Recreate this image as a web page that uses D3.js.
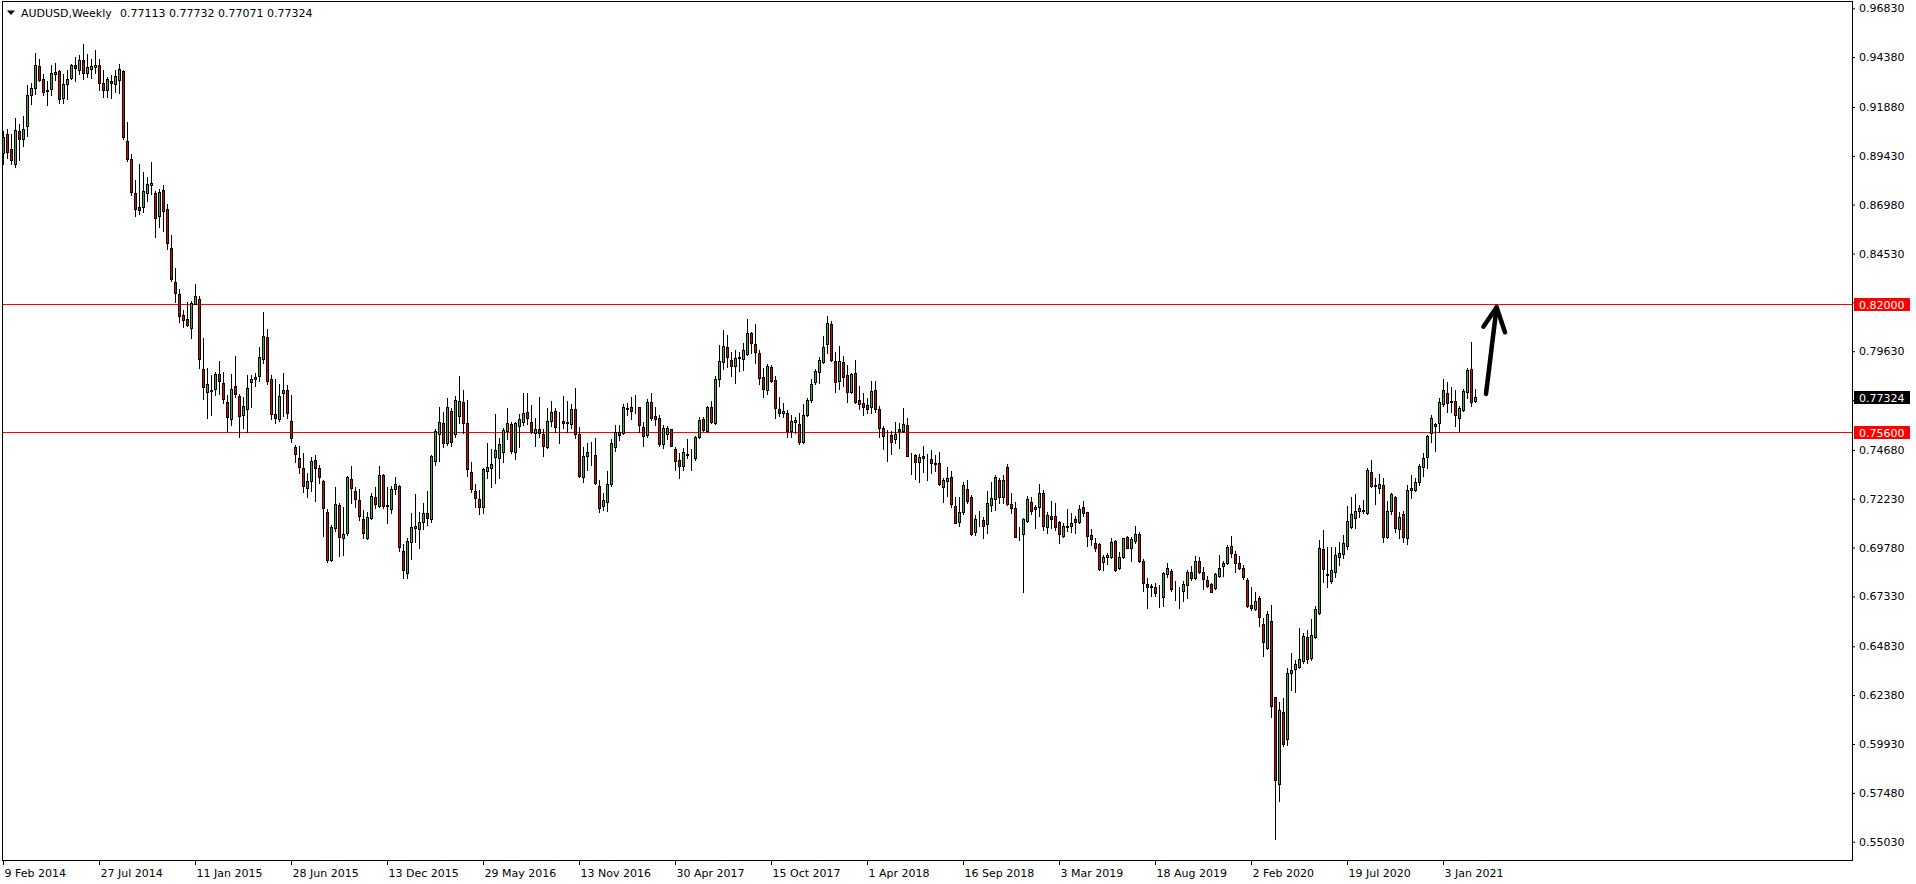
<!DOCTYPE html>
<html><head><meta charset="utf-8">
<script src="https://cdn.jsdelivr.net/npm/d3@7"></script>
<style>html,body{margin:0;padding:0;background:#fff;overflow:hidden}</style>
</head><body><svg id="c" width="1916" height="884"></svg>
<script>
const symbolTitle = "AUDUSD,Weekly";
const titleValues = "0.77113 0.77732 0.77071 0.77324";
const openP = [
0.8959,0.9055,0.8976,0.8904,0.9066,0.9025,0.9093,0.9248,0.9285,0.9392,
0.9330,0.9275,0.9280,0.9354,0.9367,0.9235,0.9305,0.9335,0.9397,0.9376,
0.9422,0.9359,0.9381,0.9391,0.9397,0.9310,0.9275,0.9319,0.9305,0.9325,
0.9367,0.9016,0.8929,0.8759,0.8685,0.8687,0.8757,0.8797,0.8756,0.8642,
0.8771,0.8674,0.8480,0.8308,0.8249,0.8144,0.8124,0.8082,0.8202,0.8223,
0.7873,0.7760,0.7763,0.7773,0.7848,0.7803,0.7706,0.7621,0.7791,0.7736,
0.7643,0.7671,0.7810,0.7822,0.7838,0.7922,0.8035,0.7826,0.7646,0.7621,
0.7751,0.7768,0.7613,0.7481,0.7429,0.7375,0.7275,0.7312,0.7416,0.7375,
0.7312,0.7156,0.6916,0.7078,0.7192,0.7024,0.7053,0.7320,0.7262,0.7217,
0.7120,0.7028,0.7125,0.7233,0.7188,0.7342,0.7188,0.7170,0.7273,0.7289,
0.6961,0.6849,0.7004,0.7086,0.7070,0.7105,0.7150,0.7121,0.7414,0.7547,
0.7601,0.7501,0.7665,0.7546,0.7638,0.7706,0.7601,0.7355,0.7262,0.7220,
0.7183,0.7364,0.7375,0.7434,0.7425,0.7456,0.7564,0.7598,0.7459,0.7589,
0.7609,0.7656,0.7606,0.7554,0.7571,0.7546,0.7481,0.7614,0.7663,0.7606,
0.7614,0.7601,0.7596,0.7671,0.7546,0.7330,0.7439,0.7446,0.7442,0.7287,
0.7188,0.7208,0.7295,0.7484,0.7559,0.7554,0.7671,0.7681,0.7673,0.7681,
0.7584,0.7542,0.7706,0.7638,0.7626,0.7496,0.7548,0.7571,0.7471,0.7417,
0.7389,0.7445,0.7442,0.7425,0.7531,0.7623,0.7564,0.7681,0.7601,0.7826,
0.7907,0.7982,0.7918,0.7890,0.7927,0.7923,0.7947,0.8052,0.7997,0.7952,
0.7832,0.7771,0.7882,0.7821,0.7671,0.7651,0.7651,0.7564,0.7609,0.7598,
0.7509,0.7643,0.7718,0.7810,0.7860,0.7907,0.7997,0.8102,0.7913,0.7815,
0.7907,0.7843,0.7760,0.7852,0.7718,0.7701,0.7691,0.7681,0.7768,0.7671,
0.7576,0.7544,0.7542,0.7521,0.7562,0.7564,0.7593,0.7442,0.7442,0.7405,
0.7437,0.7422,0.7420,0.7400,0.7400,0.7280,0.7314,0.7334,0.7188,0.7105,
0.7155,0.7270,0.7230,0.7058,0.7117,0.7116,0.7095,0.7192,0.7220,0.7317,
0.7230,0.7380,0.7197,0.7175,0.7043,0.7045,0.7113,0.7208,0.7170,0.7180,
0.7250,0.7083,0.7136,0.7136,0.7105,0.7038,0.7080,0.7086,0.7120,0.7105,
0.7180,0.7155,0.7041,0.7000,0.6996,0.6908,0.6933,0.6933,0.7011,0.6874,
0.6933,0.7030,0.6978,0.7013,0.7045,0.6911,0.6794,0.6784,0.6779,0.6742,
0.6729,0.6844,0.6862,0.6771,0.6766,0.6762,0.6791,0.6854,0.6824,0.6913,
0.6858,0.6816,0.6794,0.6774,0.6836,0.6888,0.6899,0.6986,0.6944,0.6899,
0.6874,0.6816,0.6690,0.6669,0.6724,0.6595,0.6476,0.6610,0.6227,0.5791,
0.6152,0.6017,0.6348,0.6368,0.6381,0.6410,0.6528,0.6423,0.6532,0.6652,
0.6969,0.6841,0.6811,0.6857,0.6933,0.6946,0.6988,0.7083,0.7128,0.7162,
0.7163,0.7150,0.7355,0.7292,0.7275,0.7292,0.7033,0.7163,0.7233,0.7070,
0.7147,0.7025,0.7267,0.7267,0.7305,0.7384,0.7434,0.7551,0.7589,0.7604,
0.7698,0.7756,0.7713,0.7713,0.7626,0.7668,0.7760,0.7872,0.77113];
const highP = [
0.9068,0.9080,0.9051,0.9135,0.9105,0.9142,0.9297,0.9309,0.9461,0.9427,
0.9355,0.9319,0.9397,0.9407,0.9372,0.9355,0.9372,0.9406,0.9439,0.9447,
0.9506,0.9456,0.9431,0.9472,0.9431,0.9376,0.9339,0.9349,0.9376,0.9402,
0.9376,0.9113,0.8951,0.8824,0.8901,0.8863,0.8837,0.8911,0.8767,0.8776,
0.8796,0.8701,0.8545,0.8378,0.8274,0.8172,0.8211,0.8216,0.8298,0.8241,
0.8030,0.7877,0.7843,0.7857,0.7913,0.7860,0.7743,0.7848,0.7938,0.7746,
0.7735,0.7843,0.7843,0.7852,0.7982,0.8160,0.8075,0.7845,0.7822,0.7798,
0.7852,0.7793,0.7743,0.7492,0.7487,0.7451,0.7354,0.7434,0.7442,0.7392,
0.7317,0.7170,0.7091,0.7283,0.7200,0.7180,0.7337,0.7387,0.7283,0.7270,
0.7166,0.7158,0.7253,0.7283,0.7387,0.7347,0.7283,0.7289,0.7330,0.7292,
0.6996,0.7024,0.7150,0.7247,0.7158,0.7200,0.7262,0.7442,0.7573,0.7685,
0.7660,0.7726,0.7676,0.7738,0.7838,0.7768,0.7718,0.7409,0.7297,0.7267,
0.7375,0.7504,0.7471,0.7648,0.7526,0.7576,0.7676,0.7609,0.7609,0.7648,
0.7756,0.7751,0.7693,0.7626,0.7731,0.7573,0.7676,0.7715,0.7676,0.7656,
0.7738,0.7713,0.7698,0.7781,0.7584,0.7484,0.7504,0.7509,0.7526,0.7317,
0.7250,0.7364,0.7521,0.7593,0.7593,0.7698,0.7701,0.7731,0.7743,0.7684,
0.7609,0.7723,0.7751,0.7684,0.7643,0.7593,0.7588,0.7573,0.7484,0.7451,
0.7476,0.7521,0.7471,0.7537,0.7631,0.7634,0.7688,0.7713,0.7838,0.7994,
0.8069,0.8044,0.7960,0.7969,0.7960,0.8002,0.8127,0.8060,0.8102,0.7969,
0.7877,0.7898,0.7893,0.7838,0.7731,0.7701,0.7668,0.7643,0.7634,0.7654,
0.7698,0.7726,0.7826,0.7873,0.7932,0.8039,0.8139,0.8116,0.7960,0.7989,
0.7939,0.7893,0.7855,0.7918,0.7788,0.7756,0.7730,0.7813,0.7813,0.7688,
0.7588,0.7567,0.7564,0.7606,0.7601,0.7679,0.7629,0.7454,0.7447,0.7447,
0.7489,0.7447,0.7467,0.7442,0.7456,0.7325,0.7384,0.7364,0.7233,0.7230,
0.7305,0.7317,0.7242,0.7141,0.7162,0.7133,0.7262,0.7309,0.7342,0.7325,
0.7342,0.7397,0.7253,0.7205,0.7083,0.7128,0.7237,0.7230,0.7192,0.7297,
0.7267,0.7158,0.7212,0.7200,0.7111,0.7100,0.7171,0.7153,0.7136,0.7192,
0.7212,0.7158,0.7070,0.7024,0.7003,0.6941,0.6950,0.7024,0.7016,0.6958,
0.7028,0.7038,0.7033,0.7086,0.7058,0.6919,0.6824,0.6796,0.6799,0.6791,
0.6858,0.6899,0.6871,0.6811,0.6779,0.6811,0.6866,0.6886,0.6938,0.6933,
0.6883,0.6838,0.6799,0.6852,0.6941,0.6911,0.6991,0.7036,0.6963,0.6936,
0.6891,0.6824,0.6782,0.6757,0.6736,0.6624,0.6662,0.6690,0.6231,0.6206,
0.6222,0.6373,0.6451,0.6415,0.6577,0.6548,0.6565,0.6620,0.6687,0.7016,
0.7066,0.6983,0.6979,0.6979,0.7008,0.7041,0.7187,0.7233,0.7247,0.7192,
0.7217,0.7375,0.7417,0.7329,0.7347,0.7325,0.7213,0.7250,0.7238,0.7158,
0.7162,0.7292,0.7342,0.7325,0.7395,0.7451,0.7543,0.7643,0.7604,0.7726,
0.7822,0.7810,0.7785,0.7768,0.7690,0.7773,0.7877,0.8010,0.77732];
const lowP = [
0.8904,0.8934,0.8904,0.8888,0.8924,0.8994,0.9041,0.9202,0.9255,0.9319,
0.9247,0.9200,0.9247,0.9322,0.9208,0.9210,0.9228,0.9330,0.9319,0.9355,
0.9327,0.9339,0.9334,0.9360,0.9275,0.9238,0.9238,0.9233,0.9263,0.9258,
0.9026,0.8918,0.8745,0.8642,0.8650,0.8662,0.8717,0.8751,0.8537,0.8587,
0.8565,0.8478,0.8316,0.8209,0.8111,0.8085,0.8090,0.8030,0.8198,0.7877,
0.7721,0.7626,0.7643,0.7743,0.7748,0.7701,0.7564,0.7593,0.7735,0.7534,
0.7576,0.7559,0.7685,0.7790,0.7815,0.7905,0.7801,0.7621,0.7601,0.7613,
0.7638,0.7629,0.7509,0.7409,0.7350,0.7258,0.7233,0.7263,0.7213,0.7300,
0.7038,0.6908,0.6913,0.7063,0.6938,0.6941,0.7041,0.7200,0.7183,0.7116,
0.7024,0.7021,0.7120,0.7175,0.7183,0.7175,0.7100,0.7150,0.7245,0.6963,
0.6827,0.6827,0.6919,0.7004,0.6974,0.7070,0.7091,0.7108,0.7392,0.7414,
0.7484,0.7492,0.7489,0.7534,0.7601,0.7551,0.7337,0.7258,0.7183,0.7146,
0.7150,0.7325,0.7283,0.7303,0.7325,0.7409,0.7521,0.7451,0.7420,0.7484,
0.7593,0.7598,0.7554,0.7489,0.7534,0.7437,0.7479,0.7589,0.7556,0.7504,
0.7576,0.7559,0.7576,0.7526,0.7330,0.7308,0.7367,0.7392,0.7297,0.7158,
0.7166,0.7163,0.7288,0.7464,0.7517,0.7550,0.7643,0.7621,0.7651,0.7559,
0.7489,0.7534,0.7618,0.7593,0.7489,0.7476,0.7522,0.7487,0.7367,0.7328,
0.7367,0.7425,0.7367,0.7417,0.7526,0.7564,0.7560,0.7604,0.7598,0.7788,
0.7873,0.7882,0.7838,0.7805,0.7865,0.7868,0.7944,0.7952,0.7902,0.7801,
0.7735,0.7748,0.7810,0.7626,0.7639,0.7631,0.7534,0.7531,0.7554,0.7497,
0.7504,0.7639,0.7710,0.7801,0.7805,0.7902,0.7955,0.7913,0.7760,0.7776,
0.7788,0.7710,0.7751,0.7701,0.7671,0.7643,0.7651,0.7651,0.7656,0.7531,
0.7472,0.7412,0.7447,0.7504,0.7476,0.7558,0.7437,0.7345,0.7322,0.7308,
0.7355,0.7317,0.7350,0.7364,0.7292,0.7205,0.7238,0.7183,0.7100,0.7088,
0.7145,0.7203,0.7041,0.7041,0.7088,0.7025,0.7053,0.7163,0.7167,0.7203,
0.7203,0.7192,0.7153,0.7030,0.7016,0.6757,0.7108,0.7147,0.7078,0.7137,
0.7066,0.7053,0.7075,0.7066,0.7003,0.7030,0.7061,0.7058,0.7053,0.7100,
0.7138,0.6988,0.6991,0.6961,0.6866,0.6866,0.6896,0.6928,0.6863,0.6869,
0.6928,0.6974,0.6913,0.7000,0.6904,0.6762,0.6677,0.6737,0.6735,0.6682,
0.6687,0.6832,0.6762,0.6715,0.6674,0.6712,0.6724,0.6816,0.6819,0.6849,
0.6770,0.6782,0.6754,0.6769,0.6832,0.6838,0.6896,0.6933,0.6854,0.6869,
0.6819,0.6682,0.6665,0.6665,0.6587,0.6436,0.6470,0.6127,0.5517,0.5708,
0.5984,0.5989,0.6264,0.6256,0.6376,0.6398,0.6401,0.6415,0.6527,0.6645,
0.6804,0.6779,0.6799,0.6832,0.6891,0.6928,0.6971,0.7078,0.7078,0.7130,
0.7150,0.7147,0.7284,0.7195,0.7254,0.7008,0.7028,0.7145,0.7058,0.7025,
0.7005,0.6995,0.7225,0.7262,0.7292,0.7339,0.7375,0.7509,0.7464,0.7559,
0.7688,0.7659,0.7659,0.7589,0.7564,0.7663,0.7726,0.7690,0.77071];
const closeP = [
0.9035,0.8963,0.8924,0.9071,0.9028,0.9080,0.9247,0.9285,0.9397,0.9325,
0.9263,0.9268,0.9357,0.9362,0.9230,0.9305,0.9330,0.9401,0.9384,0.9422,
0.9360,0.9389,0.9392,0.9397,0.9310,0.9272,0.9327,0.9310,0.9342,0.9377,
0.9038,0.8929,0.8762,0.8674,0.8672,0.8766,0.8801,0.8806,0.8632,0.8761,
0.8667,0.8508,0.8324,0.8253,0.8141,0.8122,0.8094,0.8207,0.8238,0.7922,
0.7785,0.7801,0.7770,0.7848,0.7815,0.7721,0.7634,0.7776,0.7748,0.7638,
0.7686,0.7781,0.7826,0.7835,0.7932,0.8040,0.7815,0.7648,0.7626,0.7738,
0.7771,0.7654,0.7529,0.7446,0.7384,0.7289,0.7312,0.7412,0.7375,0.7330,
0.7175,0.6916,0.7083,0.7197,0.7033,0.7046,0.7330,0.7275,0.7220,0.7138,
0.7050,0.7130,0.7237,0.7195,0.7342,0.7188,0.7190,0.7272,0.7297,0.6979,
0.6866,0.7011,0.7080,0.7075,0.7105,0.7150,0.7128,0.7437,0.7563,0.7606,
0.7504,0.7681,0.7509,0.7718,0.7713,0.7604,0.7370,0.7270,0.7225,0.7183,
0.7370,0.7380,0.7395,0.7467,0.7497,0.7567,0.7601,0.7464,0.7601,0.7623,
0.7651,0.7626,0.7559,0.7571,0.7551,0.7489,0.7614,0.7656,0.7584,0.7608,
0.7601,0.7606,0.7671,0.7546,0.7339,0.7437,0.7456,0.7448,0.7303,0.7175,
0.7217,0.7297,0.7501,0.7559,0.7542,0.7681,0.7676,0.7664,0.7675,0.7593,
0.7539,0.7706,0.7626,0.7623,0.7497,0.7576,0.7576,0.7489,0.7414,0.7389,
0.7456,0.7447,0.7444,0.7531,0.7618,0.7567,0.7684,0.7606,0.7826,0.7915,
0.7989,0.7932,0.7890,0.7927,0.7932,0.7969,0.8052,0.8002,0.7960,0.7830,
0.7776,0.7888,0.7815,0.7676,0.7651,0.7663,0.7564,0.7613,0.7618,0.7509,
0.7643,0.7718,0.7801,0.7863,0.7918,0.7982,0.8107,0.7918,0.7810,0.7913,
0.7835,0.7760,0.7848,0.7710,0.7696,0.7681,0.7671,0.7763,0.7671,0.7579,
0.7539,0.7542,0.7509,0.7546,0.7572,0.7596,0.7439,0.7444,0.7405,0.7430,
0.7425,0.7420,0.7400,0.7395,0.7295,0.7317,0.7325,0.7195,0.7103,0.7155,
0.7292,0.7213,0.7046,0.7120,0.7119,0.7088,0.7200,0.7225,0.7330,0.7230,
0.7317,0.7197,0.7175,0.7033,0.7041,0.7121,0.7220,0.7163,0.7183,0.7250,
0.7088,0.7141,0.7121,0.7080,0.7045,0.7086,0.7086,0.7100,0.7105,0.7171,
0.7150,0.7038,0.7021,0.6974,0.6869,0.6929,0.6941,0.7005,0.6866,0.6929,
0.7025,0.6978,0.7020,0.7045,0.6911,0.6799,0.6782,0.6782,0.6749,0.6740,
0.6849,0.6877,0.6769,0.6770,0.6764,0.6794,0.6857,0.6824,0.6913,0.6858,
0.6821,0.6786,0.6757,0.6844,0.6874,0.6903,0.6983,0.6949,0.6899,0.6874,
0.6829,0.6687,0.6674,0.6712,0.6629,0.6507,0.6645,0.6186,0.5810,0.6164,
0.5992,0.6348,0.6365,0.6393,0.6418,0.6535,0.6418,0.6540,0.6670,0.6974,
0.6869,0.6844,0.6866,0.6941,0.6953,0.7003,0.7111,0.7147,0.7162,0.7175,
0.7165,0.7367,0.7287,0.7287,0.7297,0.7030,0.7162,0.7245,0.7078,0.7130,
0.7030,0.7267,0.7275,0.7305,0.7387,0.7426,0.7537,0.7626,0.7596,0.7706,
0.7768,0.7701,0.7706,0.7643,0.7680,0.7763,0.7868,0.7706,0.77324];
const dateLabels = ["9 Feb 2014","27 Jul 2014","11 Jan 2015","28 Jun 2015","13 Dec 2015","29 May 2016","13 Nov 2016","30 Apr 2017","15 Oct 2017","1 Apr 2018","16 Sep 2018","3 Mar 2019","18 Aug 2019","2 Feb 2020","19 Jul 2020","3 Jan 2021"];
const dateLabelBars = [0,24,48,72,96,120,144,168,192,216,240,264,288,312,336,360];
const priceTicks = [0.96830,0.94380,0.91880,0.89430,0.86980,0.84530,0.82080,0.79630,0.77180,0.74680,0.72230,0.69780,0.67330,0.64830,0.62380,0.59930,0.57480,0.55030];
const levels = [0.82000, 0.75600];
const lastPrice = 0.77324;
const arrowShaft = [[370.75, 0.7749], [373.4, 0.8184]];
const arrowHead = [[370.1, 0.8086], [373.4, 0.8184], [375.5, 0.8058]];

const FONT = "DejaVu Sans, Verdana, sans-serif";
const svg = d3.select("#c");
const P = {left: 2, right: 1852, top: 1, bottom: 860};
const x = d3.scaleLinear().domain([0, 368]).range([3, 1475]);
const y = d3.scaleLinear().domain([0.55030, 0.96830]).range([841.7, 8.3]);

const bars = d3.range(openP.length).map(i => ({i, o: openP[i], h: highP[i], l: lowP[i], c: closeP[i]}));

// level lines
svg.append("g").selectAll("line").data(levels).join("line")
  .attr("x1", P.left).attr("x2", P.right)
  .attr("y1", d => Math.round(y(d)) + 0.5).attr("y2", d => Math.round(y(d)) + 0.5)
  .attr("stroke", "#ff0000").attr("stroke-width", 1);

const cg = svg.append("g").attr("shape-rendering", "crispEdges");
cg.selectAll("line").data(bars).join("line")
  .attr("x1", d => Math.round(x(d.i)) + 0.5).attr("x2", d => Math.round(x(d.i)) + 0.5)
  .attr("y1", d => Math.round(y(d.h))).attr("y2", d => Math.round(y(d.l)) + 1)
  .attr("stroke", "#000").attr("stroke-width", 1);
cg.selectAll("rect").data(bars).join("rect")
  .attr("x", d => Math.round(x(d.i)) - 0.5)
  .attr("width", 2)
  .attr("y", d => Math.min(Math.round(y(d.o)), Math.round(y(d.c))) + 0.5)
  .attr("height", d => Math.abs(Math.round(y(d.o)) - Math.round(y(d.c))))
  .attr("fill", d => d.c > d.o ? "#32b432" : (d.c < d.o ? "#e60000" : "none"))
  .attr("stroke", "#000").attr("stroke-width", 1);

// frame
svg.append("path")
  .attr("d", `M${P.left + 0.5},${P.bottom + 0.5}V${P.top + 0.5}H${P.right + 0.5}V${P.bottom + 0.5}H${P.left + 0.5}`)
  .attr("fill", "none").attr("stroke", "#000").attr("shape-rendering", "crispEdges");

// y axis
const ya = svg.append("g").attr("transform", `translate(${P.right},0)`)
  .call(d3.axisRight(y).tickValues(priceTicks).tickFormat(d3.format(".5f")).tickSize(3).tickPadding(4));
ya.select(".domain").remove();
ya.attr("font-family", FONT).attr("font-size", 11);
ya.selectAll("text").attr("fill", "#000");

// x axis
const xa = svg.append("g").attr("transform", `translate(0,${P.bottom})`)
  .call(d3.axisBottom(x).tickValues(dateLabelBars).tickFormat((d, k) => dateLabels[k]).tickSize(5).tickPadding(4));
xa.select(".domain").remove();
xa.attr("font-family", FONT).attr("font-size", 11);
xa.selectAll("text").attr("text-anchor", "start").attr("x", 1).attr("fill", "#000");

// price boxes
const boxes = levels.map(v => ({v, bg: "#ff0000"})).concat([{v: lastPrice, bg: "#000"}]);
const bg = svg.append("g");
boxes.forEach(b => {
  const yy = Math.round(y(b.v));
  bg.append("rect").attr("x", P.right + 2).attr("y", yy - 6).attr("width", 56).attr("height", 13).attr("fill", b.bg);
  bg.append("text").attr("x", P.right + 7).attr("y", yy + 4.5).attr("font-family", FONT).attr("font-size", 11)
    .attr("fill", "#fff").text(d3.format(".5f")(b.v));
});

// title
svg.append("path").attr("d", "M7,10.5L15,10.5L11,15Z").attr("fill", "#000");
svg.append("text").attr("x", 21).attr("y", 17).attr("font-family", FONT).attr("font-size", 11).attr("fill", "#000").text(symbolTitle);
svg.append("text").attr("x", 120).attr("y", 17).attr("font-family", FONT).attr("font-size", 11).attr("fill", "#000").text(titleValues);

// arrow
const line = d3.line().x(d => x(d[0])).y(d => y(d[1]));
svg.append("path").attr("d", line(arrowShaft)).attr("fill", "none").attr("stroke", "#000").attr("stroke-width", 4.5).attr("stroke-linecap", "round");
svg.append("path").attr("d", line(arrowHead)).attr("fill", "none").attr("stroke", "#000").attr("stroke-width", 4.5).attr("stroke-linecap", "round").attr("stroke-linejoin", "round");
</script></body></html>
